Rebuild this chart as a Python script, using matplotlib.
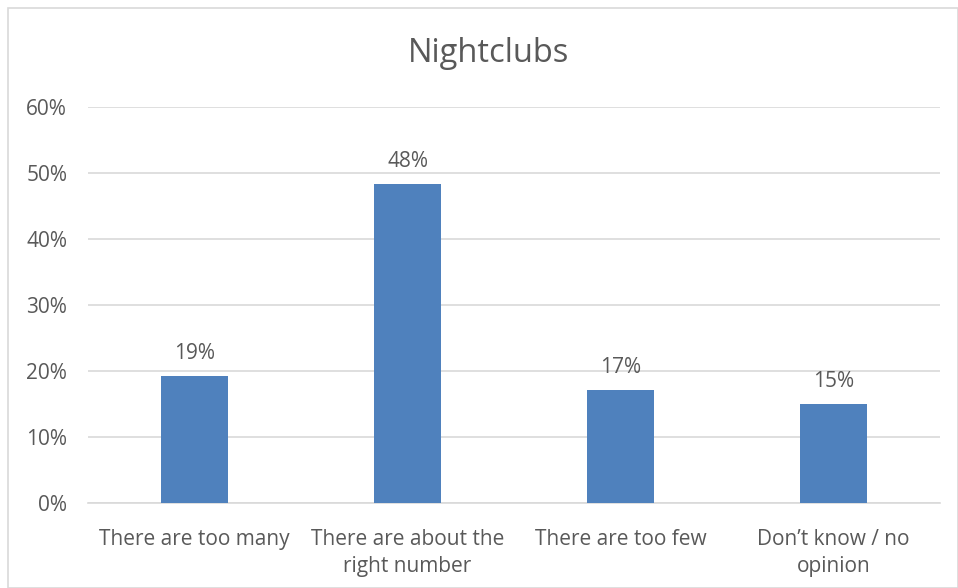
import matplotlib.pyplot as plt
from matplotlib.patches import Rectangle
from matplotlib.ticker import PercentFormatter

categories = ["There are too many", "There are about the\nright number",
              "There are too few", "Don\u2019t know / no\nopinion"]
values = [19.3, 48.3, 17.1, 15.0]
labels = ["19%", "48%", "17%", "15%"]

plt.rcParams['font.family'] = ['Open Sans', 'DejaVu Sans']
text_color = "#595959"

fig = plt.figure(figsize=(9.58, 5.88), dpi=100)
fig.patches.append(Rectangle((8 / 958, 0), 1 - 8 / 958, 1 - 8 / 588,
                             transform=fig.transFigure, fill=False,
                             edgecolor="#d9d9d9", linewidth=1.2))
ax = fig.add_axes([88 / 958, 1 - 503 / 588, (940 - 88) / 958, (503 - 107) / 588])

x = range(len(categories))
bars = ax.bar(x, values, width=0.315, color="#4f81bd", zorder=3)
for b, lab in zip(bars, labels):
    ax.text(b.get_x() + b.get_width() / 2, b.get_height() + 1.8, lab,
            ha="center", va="bottom", fontsize=15, color=text_color)

ax.set_xlim(-0.5, len(categories) - 0.5)
ax.set_ylim(0, 60)
ax.set_yticks(range(0, 61, 10))
ax.yaxis.set_major_formatter(PercentFormatter(decimals=0))
ax.set_xticks(list(x))
ax.set_xticklabels(categories, linespacing=1.38)
ax.grid(axis="y", color="#d9d9d9", linewidth=1.2, zorder=0)
ax.tick_params(axis="both", length=0, labelsize=15, labelcolor=text_color)
ax.tick_params(axis="x", pad=19)
ax.tick_params(axis="y", pad=15)
for s in ["top", "right", "left"]:
    ax.spines[s].set_visible(False)
ax.spines["bottom"].set_color("#d9d9d9")
ax.spines["bottom"].set_linewidth(1.2)

fig.text(489 / 958, 1 - 53 / 588, "Nightclubs", ha="center", va="center",
         fontsize=23.5, color=text_color)

fig.savefig("out.png", dpi=100)
